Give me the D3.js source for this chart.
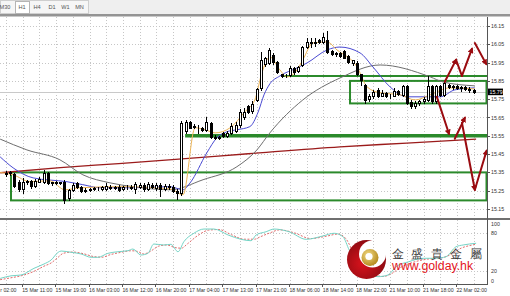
<!DOCTYPE html>
<html><head><meta charset="utf-8">
<script src="https://cdn.jsdelivr.net/npm/d3@7/dist/d3.min.js"></script>
<style>
html,body{margin:0;padding:0;background:#fff;}
svg{display:block;}
text{font-family:"Liberation Sans",Arial,sans-serif;}
</style></head><body>
<svg id="c" width="510" height="296"></svg>
<script>
// ---------- DATA ----------
const opens = [15.340,15.345,15.340,15.300,15.258,15.295,15.305,15.275,15.300,15.295,
15.345,15.290,15.300,15.290,15.300,15.210,15.255,15.293,15.268,15.255,
15.255,15.260,15.262,15.262,15.260,15.272,15.265,15.272,15.260,15.268,
15.270,15.262,15.270,15.283,15.260,15.280,15.265,15.283,15.260,15.275,
15.270,15.250,15.235,15.575,15.625,15.600,15.595,15.590,15.580,15.620,
15.545,15.540,15.565,15.550,15.565,15.575,15.610,15.650,15.715,15.685,
15.745,15.810,15.945,15.950,15.990,15.955,15.885,15.880,15.880,15.920,
15.905,15.935,16.035,16.055,16.055,16.075,16.060,16.075,16.015,15.995,
16.000,16.015,15.985,15.950,15.950,15.885,15.830,15.750,15.765,15.800,
15.770,15.785,15.770,15.770,15.795,15.775,15.820,15.735,15.715,15.730,
15.740,15.745,15.820,15.740,15.820,15.775,15.830,15.815,15.820,15.810,
15.815,15.805,15.800];
const highs = [15.355,15.360,15.345,15.310,15.320,15.310,15.310,15.315,15.325,15.365,
15.350,15.300,15.305,15.300,15.310,15.260,15.290,15.300,15.275,15.265,
15.265,15.270,15.270,15.275,15.290,15.280,15.275,15.280,15.275,15.280,
15.280,15.295,15.290,15.290,15.295,15.290,15.290,15.290,15.285,15.285,
15.280,15.260,15.630,15.635,15.630,15.615,15.610,15.600,15.655,15.625,
15.555,15.550,15.570,15.575,15.620,15.625,15.695,15.700,15.720,15.740,
15.810,16.010,15.980,16.030,16.000,15.960,15.890,15.885,15.930,15.925,
15.930,16.040,16.085,16.085,16.085,16.080,16.110,16.120,16.020,16.010,
16.010,16.020,15.990,15.965,15.960,15.890,15.835,15.780,15.800,15.810,
15.800,15.790,15.780,15.810,15.800,15.830,15.830,15.745,15.740,15.745,
15.760,15.875,15.825,15.825,15.830,15.850,15.835,15.830,15.830,15.820,
15.820,15.815,15.805];
const lows = [15.330,15.335,15.270,15.250,15.240,15.285,15.265,15.270,15.295,15.290,
15.285,15.280,15.285,15.285,15.185,15.200,15.250,15.265,15.245,15.245,
15.250,15.255,15.255,15.255,15.255,15.260,15.258,15.250,15.255,15.260,
15.260,15.240,15.265,15.250,15.255,15.265,15.255,15.220,15.255,15.260,
15.245,15.205,15.225,15.565,15.590,15.595,15.565,15.575,15.575,15.540,
15.535,15.535,15.545,15.545,15.560,15.570,15.600,15.640,15.675,15.675,
15.740,15.800,15.930,15.945,15.945,15.895,15.870,15.870,15.875,15.890,
15.900,15.930,16.030,16.035,16.040,16.055,16.055,16.005,15.990,15.985,
15.980,15.975,15.950,15.935,15.880,15.830,15.730,15.740,15.755,15.760,
15.765,15.760,15.755,15.765,15.775,15.770,15.725,15.700,15.700,15.720,
15.730,15.740,15.730,15.730,15.770,15.770,15.810,15.805,15.805,15.795,
15.800,15.790,15.785];
const closes = [15.345,15.350,15.275,15.260,15.300,15.305,15.275,15.305,15.315,15.345,
15.290,15.295,15.290,15.295,15.200,15.255,15.283,15.272,15.250,15.250,
15.260,15.265,15.260,15.268,15.275,15.265,15.268,15.255,15.270,15.272,
15.265,15.285,15.283,15.258,15.288,15.272,15.283,15.260,15.275,15.268,
15.250,15.235,15.620,15.625,15.595,15.605,15.590,15.580,15.625,15.545,
15.540,15.545,15.550,15.565,15.605,15.610,15.680,15.680,15.680,15.725,
15.805,15.965,15.975,16.020,15.955,15.900,15.875,15.883,15.920,15.900,
15.925,16.035,16.060,16.065,16.065,16.060,16.090,16.010,15.995,16.000,
15.985,15.975,15.955,15.962,15.885,15.855,15.745,15.765,15.790,15.770,
15.785,15.770,15.765,15.795,15.780,15.820,15.730,15.715,15.730,15.740,
15.750,15.820,15.740,15.820,15.775,15.840,15.815,15.820,15.810,15.815,
15.805,15.800,15.790];

// moving averages: [bar index, price]
const maRed = [[-1.4,15.348],[13,15.376],[27,15.398],[39,15.418],[58,15.452],[80,15.490],[96,15.510],[112.6,15.532]];
const maGray = [[-1.4,15.532],[5,15.473],[12.9,15.419],[18.4,15.337],[24.9,15.293],[30.4,15.272],[39.3,15.255],
 [47.2,15.310],[55.3,15.381],[60.1,15.473],[63.2,15.566],[71.1,15.746],[80,15.866],[89.6,15.937],[101.6,15.872],[104.7,15.844],[112.3,15.823]];
const maBlue = [[-1.4,15.435],[1.7,15.375],[6.5,15.320],[14.6,15.299],[18.4,15.283],[22.5,15.266],[30.4,15.266],[39.3,15.272],
 [42.4,15.255],[44.1,15.293],[48.1,15.457],[50.5,15.539],[52.9,15.572],[55.3,15.583],[58.4,15.600],[60.4,15.680],[61.8,15.774],
 [63.2,15.834],[65.6,15.877],[69.7,15.921],[72.1,15.948],[76.9,16.019],[80,16.035],[84.8,16.003],[87.9,15.926],[92,15.817],
 [96,15.763],[104,15.763],[107.5,15.801],[112.3,15.812]];
const maYellow = [[-1.4,15.350],[1.7,15.337],[5.7,15.300],[10.5,15.304],[14.1,15.255],[17.7,15.266],[27.3,15.272],[39.3,15.260],
 [42.4,15.228],[45.3,15.594],[47.7,15.583],[50.1,15.566],[53.7,15.594],[57.2,15.681],[59.6,15.746],[61.3,15.894],[63.2,15.981],
 [65.6,15.910],[67.3,15.872],[69.7,15.910],[71.1,15.965],[73.5,16.057],[76.9,16.063],[79.3,16.019],[84.1,15.926],[86.5,15.817],
 [89.6,15.785],[94.4,15.774],[98,15.746],[101.6,15.774],[106.3,15.812],[112.3,15.806]];

// oscillator panel: [bar index, value 0..100]
const oscMain = [[-1.4,9],[1.2,13],[3.6,14.3],[6.7,24.7],[9.1,31.4],[10.8,37.6],[12.5,49.6],[13.2,51.6],[15.6,49.6],[18,47],
 [20.4,41.8],[22,41.8],[24.4,48],[26.8,50.5],[29.2,52.1],[30.4,54.7],[32.3,45.4],[34,48],[35.4,62.5],[37.8,61],[39.5,62],
 [41.2,50.5],[42.6,66.1],[45,79.2],[47.4,85.8],[49.8,85.8],[53.2,76.5],[56.3,69.8],[58.7,67.6],[59.9,76.5],[62.3,81.6],
 [64.2,85.8],[67.8,81.6],[71.9,69.8],[75.9,75],[78.6,79.2],[80.7,73.9],[82.2,53.2],[83.8,35],[86.2,19.4],[89.1,11.7],
 [91.5,14.3],[93.4,27.2],[96.5,35],[99.9,40.3],[103,40.3],[105.4,42.8],[107.8,58.3],[109.5,61],[112.6,63.6]];
const oscSignal = [[-1.4,7],[1.2,10],[3.6,13],[6.7,20],[9.1,28],[10.8,33],[12.5,42],[13.7,48],[16,50],[18.5,47.5],[21,43],
 [23,42],[25,46],[27.5,49.5],[30,52],[31.5,51],[33,47],[34.8,52],[36.5,59],[38.5,61],[40.5,57],[42,56],[43.5,63],[46,76],
 [48.5,84],[51,85],[54,77],[57,70],[59.5,70],[61,74],[63.3,80],[65.5,84.5],[69,80],[73,71],[77,75],[79.5,78],[81.5,70],
 [83,52],[85,33],[87.5,18],[90.3,12],[92.5,17],[94.5,26],[97.5,34],[101,39],[104,40.5],[106.5,46],[109,56],[111,60],[112.6,62]];

const priceTicks = [15.15,15.25,15.35,15.45,15.55,15.65,15.75,15.85,15.95,16.05,16.15];
const oscTicks = [100,80,20,0];
const oscLevels = [20,80];
// first label is only partly visible at the left edge in the original ("r 02:00")
const dateLabels = ["r 02:00","15 Mar 11:00","15 Mar 19:00","16 Mar 03:00","16 Mar 12:00","16 Mar 20:00","17 Mar 04:00",
 "17 Mar 13:00","17 Mar 21:00","18 Mar 06:00","18 Mar 14:00","18 Mar 22:00","21 Mar 10:00","21 Mar 18:00","22 Mar 02:00"];
const dateIdx = [-4,4,12,20,28,36,44,52,60,68,76,84,92,100,108];
const bidPrice = 15.79;
const tabs = ["M30","H1","H4","D1","W1","MN"];

// drawn objects: rectangles [startIdx, endIdx(null = right edge), top price, bottom price]
const zones = [[1.2,null,15.350,15.197],[82.4,null,15.850,15.727]];
// horizontal lines [startIdx, price, width]
const hLines = [[42.9,15.55,3.5],[66.3,15.877,2]];
// arrows: [startIdx,startPrice,endIdx,endPrice,hasHead]
const arrows = [
 [105.1,15.845,107.8,15.965,1],[107.8,15.965,109.2,15.877,0],[109.2,15.877,111.6,16.025,1],
 [112.3,16.057,115.0,15.943,1],
 [103.2,15.763,106.1,15.561,1],[107.5,15.534,109.9,15.648,1],
 [109.2,15.621,112.3,15.255,1],[112.3,15.255,115.1,15.468,1]];

// ---------- DRAW ----------
const W=510, H=296;
const plotR=487, mainTop=17, mainBot=218, indTop=220, indBot=284;
const svg=d3.select('#c');
const x=d3.scaleLinear().domain([0,112]).range([6,6+112*4.175]);
const y=d3.scaleLinear().domain([15.15,16.15]).range([209,26]);
const yo=d3.scaleLinear().domain([0,100]).range([284.2,219.9]);

const defs=svg.append('defs');
defs.append('clipPath').attr('id','mc').append('rect').attr('x',0).attr('y',mainTop).attr('width',plotR).attr('height',mainBot-mainTop);
defs.append('clipPath').attr('id','ic').append('rect').attr('x',0).attr('y',indTop).attr('width',plotR).attr('height',indBot-indTop);
defs.append('marker').attr('id','ah').attr('viewBox','0 0 10 10').attr('refX',7).attr('refY',5)
  .attr('markerWidth',6).attr('markerHeight',6).attr('markerUnits','userSpaceOnUse').attr('orient','auto')
  .append('path').attr('d','M0,0L10,5L0,10z').attr('fill','#9a0b10');

svg.append('rect').attr('width',W).attr('height',H).attr('fill','#fff');

// tab bar
svg.append('rect').attr('width',W).attr('height',14).attr('fill','#efefef');
svg.append('rect').attr('x',0.5).attr('y',0.5).attr('width',88).attr('height',13).attr('fill','#f6f6f6').attr('stroke','#cfcfcf');
svg.append('rect').attr('x',15.5).attr('y',1.5).attr('width',14).attr('height',12).attr('fill','#fff').attr('stroke','#b5b5b5');
const tabCx=[5,22,37,52,65.5,79.5];
svg.selectAll('.tab').data(tabs).enter().append('text')
  .attr('x',(d,i)=>tabCx[i]).attr('y',9.3).attr('text-anchor','middle')
  .attr('font-size',5.6).attr('fill','#555').text(d=>d);
svg.append('rect').attr('y',14).attr('width',W).attr('height',2.5).attr('fill','#949494');

// main panel
const gm=svg.append('g').attr('clip-path','url(#mc)');
const gridIdx=d3.range(0,113,4);
gm.selectAll('.vg').data(gridIdx).enter().append('line')
  .attr('x1',d=>Math.round(x(d))+0.5).attr('x2',d=>Math.round(x(d))+0.5)
  .attr('y1',mainTop).attr('y2',mainBot).attr('stroke','#c6c6c6').attr('stroke-dasharray','1,2');
gm.selectAll('.hg').data(priceTicks).enter().append('line')
  .attr('x1',0).attr('x2',plotR).attr('y1',d=>Math.round(y(d))+0.5).attr('y2',d=>Math.round(y(d))+0.5)
  .attr('stroke','#c6c6c6').attr('stroke-dasharray','1,2');

// bid line
gm.append('line').attr('x1',0).attr('x2',plotR).attr('y1',Math.round(y(bidPrice))+0.5).attr('y2',Math.round(y(bidPrice))+0.5)
  .attr('stroke','#c9c9c9');

// green zones
const green='#2b8a2b';
gm.selectAll('.zone').data(zones).enter().append('rect')
  .attr('x',d=>x(d[0])).attr('y',d=>y(d[2]))
  .attr('width',d=>(d[1]===null?plotR-0.5:x(d[1]))-x(d[0])).attr('height',d=>y(d[3])-y(d[2]))
  .attr('fill','none').attr('stroke',green).attr('stroke-width',2);
gm.selectAll('.hl').data(hLines).enter().append('line')
  .attr('x1',d=>x(d[0])).attr('x2',plotR).attr('y1',d=>y(d[1])).attr('y2',d=>y(d[1]))
  .attr('stroke',green).attr('stroke-width',d=>d[2]);

// moving averages
const line=d3.line().x(d=>x(d[0])).y(d=>y(d[1])).curve(d3.curveMonotoneX);
[[maRed,'#9b1b1b',1.3],[maGray,'#6e6e6e',1],[maBlue,'#4a4ad2',1],[maYellow,'#ecb456',1]].forEach(([data,col,w])=>{
  gm.append('path').datum(data).attr('d',line).attr('fill','none').attr('stroke',col).attr('stroke-width',w);
});

// candles
const bars=d3.range(opens.length).map(i=>({i,o:opens[i],h:highs[i],l:lows[i],c:closes[i]}));
const cg=gm.selectAll('.cd').data(bars).enter().append('g');
cg.append('line')
  .attr('x1',d=>Math.round(x(d.i))+0.5).attr('x2',d=>Math.round(x(d.i))+0.5)
  .attr('y1',d=>Math.round(y(d.h))).attr('y2',d=>Math.round(y(d.l))+1)
  .attr('stroke','#000');
cg.append('rect')
  .attr('x',d=>Math.round(x(d.i))-0.5).attr('width',2)
  .attr('y',d=>Math.round(y(Math.max(d.o,d.c)))+0.5)
  .attr('height',d=>Math.max(0,Math.round(y(Math.min(d.o,d.c)))-Math.round(y(Math.max(d.o,d.c)))))
  .attr('fill',d=>d.c>=d.o?'#fff':'#000').attr('stroke','#000').attr('stroke-width',1);

// arrows
const ag=svg.append('g').attr('clip-path','url(#mc)');
ag.selectAll('.ar').data(arrows).enter().append('line')
  .attr('x1',d=>x(d[0])).attr('y1',d=>y(d[1])).attr('x2',d=>x(d[2])).attr('y2',d=>y(d[3]))
  .attr('stroke','#9a0b10').attr('stroke-width',2).attr('stroke-linecap','round')
  .attr('marker-end',d=>d[4]?'url(#ah)':null);

// separator
svg.append('rect').attr('x',0).attr('y',mainBot).attr('width',W).attr('height',2).attr('fill','#6f6f6f');

// oscillator panel
const gi=svg.append('g').attr('clip-path','url(#ic)');
gi.selectAll('.vg2').data(gridIdx).enter().append('line')
  .attr('x1',d=>Math.round(x(d))+0.5).attr('x2',d=>Math.round(x(d))+0.5)
  .attr('y1',indTop).attr('y2',indBot).attr('stroke','#c6c6c6').attr('stroke-dasharray','1,2');
gi.selectAll('.lv').data(oscLevels).enter().append('line')
  .attr('x1',0).attr('x2',plotR).attr('y1',d=>Math.round(yo(d))+0.5).attr('y2',d=>Math.round(yo(d))+0.5)
  .attr('stroke','#c6c6c6').attr('stroke-dasharray','1,2');
const oline=d3.line().x(d=>x(d[0])).y(d=>yo(d[1])).curve(d3.curveMonotoneX);
gi.append('path').datum(oscSignal).attr('d',oline).attr('fill','none').attr('stroke','#e06a6a').attr('stroke-dasharray','2,1.5');
gi.append('path').datum(oscMain).attr('d',oline).attr('fill','none').attr('stroke','#74d4c6');

// axes frame
svg.append('line').attr('x1',plotR+0.5).attr('x2',plotR+0.5).attr('y1',mainTop).attr('y2',indBot+1).attr('stroke','#555');
svg.append('line').attr('x1',0).attr('x2',plotR+1).attr('y1',indBot+0.5).attr('y2',indBot+0.5).attr('stroke','#555');

// price axis
svg.selectAll('.pt').data(priceTicks).enter().append('line')
  .attr('x1',plotR).attr('x2',plotR+3).attr('y1',d=>Math.round(y(d))+0.5).attr('y2',d=>Math.round(y(d))+0.5).attr('stroke','#555');
svg.selectAll('.pl').data(priceTicks).enter().append('text')
  .attr('x',plotR+4).attr('y',d=>y(d)+2).attr('font-size',5.3).attr('fill','#333').text(d=>d.toFixed(2));
svg.append('rect').attr('x',plotR+1).attr('y',y(bidPrice)-3.3).attr('width',15).attr('height',6.6).attr('fill','#000');
svg.append('text').attr('x',plotR+2.5).attr('y',y(bidPrice)+2).attr('font-size',5.3).attr('fill','#fff').text(bidPrice.toFixed(2));

// oscillator axis labels (top/bottom clamped inside panel)
const oscLabelY = v => Math.min(Math.max(yo(v),indTop+3.5),indBot-3.5)+2;
svg.selectAll('.ol').data(oscTicks).enter().append('text')
  .attr('x',plotR+4).attr('y',oscLabelY).attr('font-size',5.3).attr('fill','#333').text(d=>d);

// date axis
svg.selectAll('.dt').data(dateIdx.filter(d=>x(d)>0)).enter().append('line')
  .attr('x1',d=>Math.round(x(d))-0.5).attr('x2',d=>Math.round(x(d))-0.5).attr('y1',indBot).attr('y2',indBot+3).attr('stroke','#555');
svg.selectAll('.dl').data(dateLabels).enter().append('text')
  .attr('x',(d,i)=>Math.max(0.3,x(dateIdx[i])-0.5)).attr('y',291.5).attr('font-size',5.2).attr('fill','#333').text(d=>d);

// logo watermark
const lg=svg.append('g');
const rg=defs.append('radialGradient').attr('id','rg').attr('cx','40%').attr('cy','60%').attr('r','60%');
rg.append('stop').attr('offset','0%').attr('stop-color','#d8121c');
rg.append('stop').attr('offset','100%').attr('stop-color','#8e0b12');
const gg=defs.append('radialGradient').attr('id','gg').attr('cx','40%').attr('cy','35%').attr('r','65%');
gg.append('stop').attr('offset','0%').attr('stop-color','#f3dc86');
gg.append('stop').attr('offset','100%').attr('stop-color','#b58a1e');
const mk=defs.append('mask').attr('id','cres');
mk.append('rect').attr('x',330).attr('y',230).attr('width',80).attr('height',60).attr('fill','#fff');
mk.append('circle').attr('cx',372.5).attr('cy',254).attr('r',13.5).attr('fill','#000');
lg.append('circle').attr('cx',366.5).attr('cy',259.5).attr('r',19.5).attr('fill','url(#rg)').attr('mask','url(#cres)');
lg.append('circle').attr('cx',370).attr('cy',257.5).attr('r',8.5).attr('fill','url(#gg)');
lg.append('circle').attr('cx',369).attr('cy',256.5).attr('r',3.6).attr('fill','#fff');
lg.append('text').attr('x',392).attr('y',257.5).attr('font-family','"Noto Sans CJK TC","Noto Sans CJK SC",sans-serif')
  .attr('font-size',11.5).attr('letter-spacing',7.4).attr('fill','#3a3a3a').text('金盛貴金屬');
lg.append('text').attr('x',392).attr('y',269.5).attr('font-size',12.3).attr('fill','#e3141b').text('www.golday.hk');
</script>
</body></html>
